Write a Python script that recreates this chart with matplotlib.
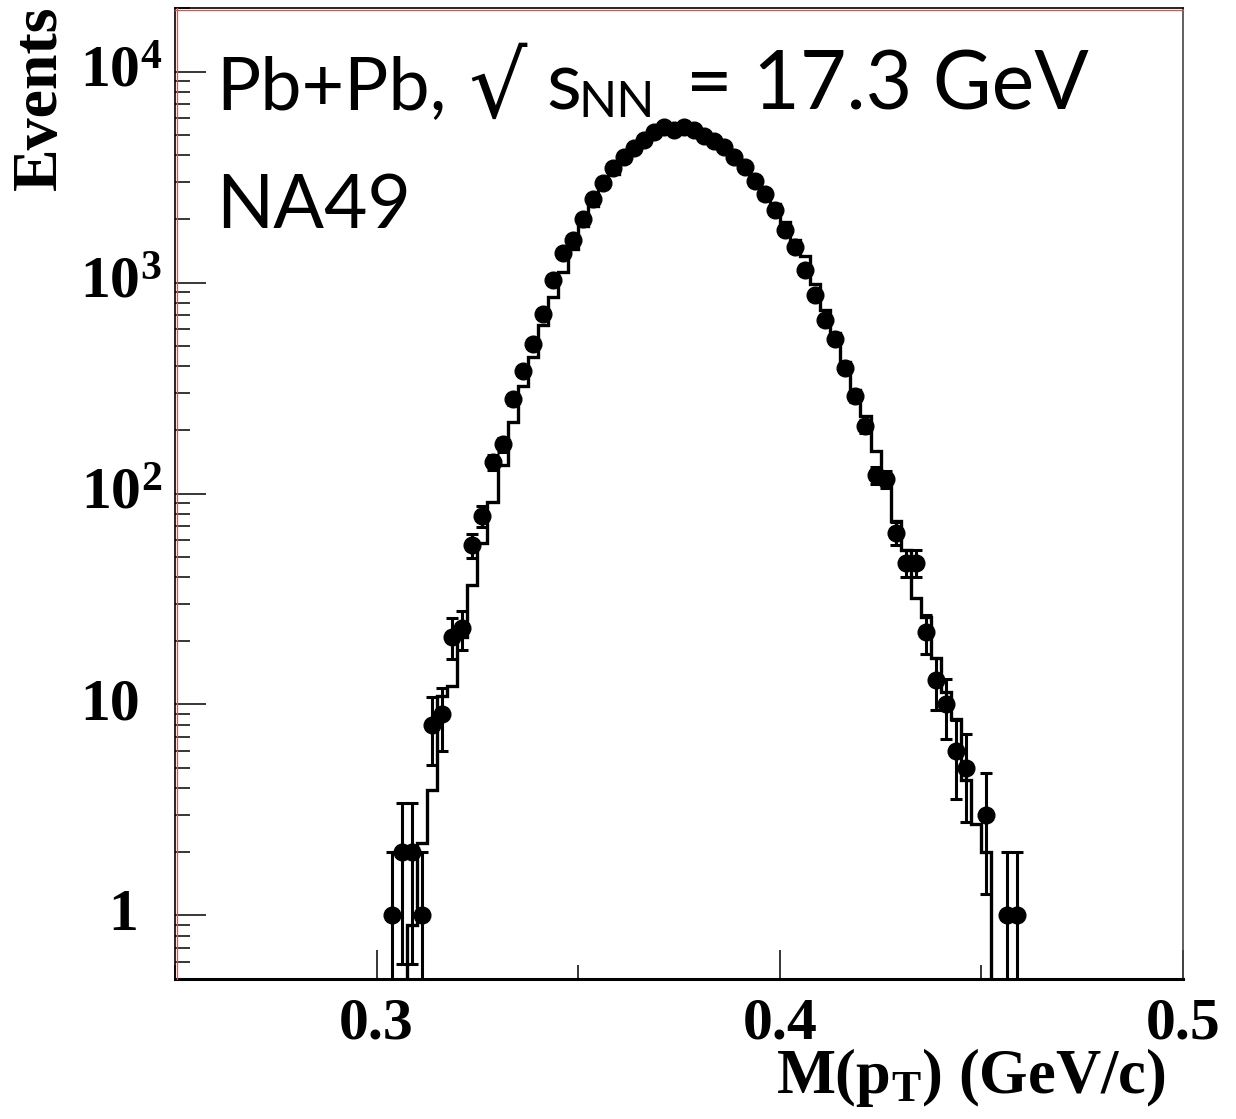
import numpy as np
import matplotlib
matplotlib.use('Agg')
import matplotlib.pyplot as plt
from matplotlib.ticker import FixedLocator, LogLocator, NullFormatter, FixedFormatter, MultipleLocator
import matplotlib.transforms as mtransforms

# ---------------- data ----------------
data_x = [0.30375, 0.30625, 0.30875, 0.31125, 0.31375, 0.31625, 0.31875, 0.32125,
          0.32375, 0.32625, 0.32875, 0.33125, 0.33375, 0.33625, 0.33875, 0.34125,
          0.34375, 0.34625, 0.34875, 0.35125, 0.35375, 0.35625, 0.35875, 0.36125,
          0.36375, 0.36625, 0.36875, 0.37125, 0.37375, 0.37625, 0.37875, 0.38125,
          0.38375, 0.38625, 0.38875, 0.39125, 0.39375, 0.39625, 0.39875, 0.40125,
          0.40375, 0.40625, 0.40875, 0.41125, 0.41375, 0.41625, 0.41875, 0.42125,
          0.42375, 0.42625, 0.42875, 0.43125, 0.43375, 0.43625, 0.43875, 0.44125,
          0.44375, 0.44625, 0.45125, 0.45625, 0.45875]
data_counts = [1, 2, 2, 1, 8, 9, 21, 23,
               57, 78, 141, 171, 279, 380, 509, 707,
               1031, 1377, 1593, 2003, 2493, 2956, 3494, 3953,
               4345, 4736, 5150, 5436, 5283, 5480, 5283, 4966,
               4667, 4405, 3925, 3522, 3044, 2613, 2195, 1765,
               1472, 1150, 869, 667, 542, 393, 289, 208,
               122, 117, 65, 47, 47, 22, 13, 10,
               6, 5, 3, 1, 1]

# model histogram (bins of width 0.0025 starting at 0.3075)
model_first_edge = 0.3075
model_bin_width = 0.0025
model_counts = [0.9, 2.2, 3.95, 11, 12.2, 21, 37, 58, 91, 136, 218, 322, 443, 626,
                853, 1120, 1444, 1862, 2317, 2830, 3275, 3800, 4250, 4650, 5000,
                5250, 5400, 5400, 5300, 5050, 4700, 4300, 3850, 3400, 2950, 2500,
                2360, 1945, 1582, 1340, 979, 738, 574, 420, 311, 232, 159, 110,
                74, 54, 32, 26, 16.6, 11.5, 8.5, 4.4, 2.7, 2.0]

y_ticks = [1, 10, 100, 1000, 10000]
y_tick_labels = ['1', '10', r'$\mathbf{10^{2}}$', r'$\mathbf{10^{3}}$', r'$\mathbf{10^{4}}$']
x_ticks = [0.3, 0.4, 0.5]
x_tick_labels = ['0.3', '0.4', '0.5']

# ---------------- style ----------------
plt.rcParams['font.family'] = ['Liberation Serif', 'DejaVu Serif']
plt.rcParams['font.weight'] = 'bold'
plt.rcParams['mathtext.fontset'] = 'custom'
plt.rcParams['mathtext.rm'] = 'Liberation Serif:bold'
plt.rcParams['mathtext.bf'] = 'Liberation Serif:bold'
plt.rcParams['mathtext.it'] = 'Liberation Serif:bold'

W, H = 1236, 1119
fig = plt.figure(figsize=(W / 100, H / 100), dpi=100)
ax = fig.add_axes([175 / W, 1 - 979 / H, (1183 - 175) / W, (979 - 8) / H])

ax.set_yscale('log')
ax.set_xlim(0.25, 0.5)
ax.set_ylim(0.5, 2.0e4)

# model histogram
edges = model_first_edge + model_bin_width * np.arange(len(model_counts) + 1)
ax.stairs(model_counts, edges, baseline=0.01, color='black', lw=2.4, zorder=2)

# data with sqrt(N) errors
cnt = np.array(data_counts, dtype=float)
err = np.sqrt(cnt)
lower = np.minimum(err, cnt - 0.01)
ax.errorbar(data_x, cnt, yerr=[lower, err], fmt='o', color='black', ms=12,
            elinewidth=2.2, capsize=4, capthick=2.2, zorder=3)

# ticks
ax.yaxis.set_major_locator(FixedLocator(y_ticks))
ax.yaxis.set_major_formatter(NullFormatter())
ax.yaxis.set_minor_locator(LogLocator(base=10, subs=np.arange(2, 10), numticks=20))
ax.yaxis.set_minor_formatter(NullFormatter())
ax.xaxis.set_major_locator(FixedLocator(x_ticks))
ax.xaxis.set_major_formatter(FixedFormatter(x_tick_labels))
ax.xaxis.set_minor_locator(MultipleLocator(0.05))

ax.tick_params(axis='y', which='major', direction='in', length=22, width=1.1)
ax.tick_params(axis='y', which='minor', direction='in', length=11, width=1.1)
ax.tick_params(axis='x', which='major', direction='in', length=21, width=1.1,
               labelsize=43, pad=13)
ax.tick_params(axis='x', which='minor', direction='in', length=10, width=1.1)
for lbl in ax.get_xticklabels():
    lbl.set_fontweight('bold')

# y tick labels (ROOT style: powers of ten right-aligned further out)
ytr = ax.get_yaxis_transform()
for val, lab in zip(y_ticks, y_tick_labels):
    xoff = -13 if '^' in lab else (-35 if lab == '10' else -37)
    tr = ytr + mtransforms.ScaledTranslation(xoff / 100, -15 / 100, fig.dpi_scale_trans)
    ax.text(0, val, lab, transform=tr, ha='right', va='baseline', fontsize=43,
            fontweight='bold', clip_on=False)

# spines
ax.spines['left'].set_linewidth(1.2)
ax.spines['top'].set_linewidth(1.2)
ax.spines['bottom'].set_linewidth(2.2)
ax.spines['right'].set_linewidth(1.2)
ax.spines['right'].set_color('#444444')

# thin red frame lines inside left/top (ROOT pad frame)
off_l = mtransforms.ScaledTranslation(1.5 / 100, 0, fig.dpi_scale_trans)
off_t = mtransforms.ScaledTranslation(0, -1.5 / 100, fig.dpi_scale_trans)
ax.plot([0, 0], [0, 1], transform=ax.transAxes + off_l, color='#d9534f', lw=0.9,
        clip_on=False, zorder=5)
ax.plot([0, 1], [1, 1], transform=ax.transAxes + off_t, color='#d9534f', lw=0.9,
        clip_on=False, zorder=5)

# axis titles
fig.text(41 / W, 1 - 6 / H, 'Events', rotation=90, ha='center', va='top',
         fontsize=46, fontweight='bold')
fig.text(1166 / W, 1 - 1093 / H, r'M(p$\mathbf{_{T}}$) (GeV/c)', ha='right',
         va='baseline', fontsize=45, fontweight='bold')

# annotation text, placed piece by piece (pixel positions)
fam = ['Lato', 'DejaVu Sans']
def ptext(xpx, ypx, s, size, family=fam):
    fig.text(xpx / W, 1 - ypx / H, s, ha='left', va='baseline', fontsize=size,
             fontweight='normal', family=family)

ptext(216, 110, 'Pb+Pb,', 53)
ptext(468, 117, '\u221a', 66, family=['DejaVu Sans'])
ptext(546, 110, 's', 58)
ptext(578, 117, 'NN', 36)
ptext(686, 110, '= 17.3 GeV', 58)
ptext(216, 228, 'NA49', 54)

fig.savefig('out.png', dpi=100)
